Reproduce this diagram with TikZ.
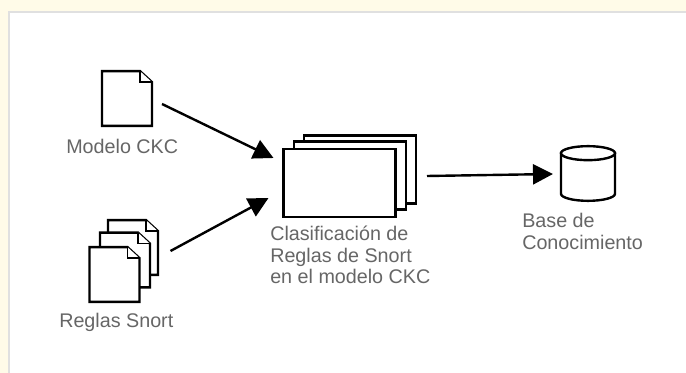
\documentclass[tikz,border=0pt]{standalone}
\usepackage{fontspec}
\setmainfont{Liberation Sans}
\usetikzlibrary{arrows.meta}
\definecolor{fondo}{HTML}{FFFBE8}
\definecolor{marco}{HTML}{E0E0E0}
\definecolor{texto}{HTML}{666666}
% one sheet with a folded corner, size in pt, position in px
\newcommand{\hoja}[3]{
\node[hojabox] (#1) at (#2,#3) {};
\draw[linea,fill=white] (#1.north west) -- ([shift={(-12,0)}]#1.north east) -- ([shift={(0,11)}]#1.north east) -- (#1.south east) -- (#1.south west) -- cycle;
\draw[linea,line width=1.2pt,fill=white] ([shift={(-12,0)}]#1.north east) -- ([shift={(-12,11)}]#1.north east) -- ([shift={(0,11)}]#1.north east);
}
\begin{document}
\begin{tikzpicture}[x=0.75pt,y=-0.75pt,
linea/.style = {line width=1.8pt,draw=black,line join=miter},
hojabox/.style = {minimum width=37.5pt,minimum height=41pt,inner sep=0pt,outer sep=0pt},
tarjeta/.style = {linea,fill=white,minimum width=84pt,minimum height=51pt,inner sep=0pt,outer sep=0pt},
flecha/.style = {line width=1.8pt,-{Triangle[length=15pt,width=15pt]}},
etiqueta/.style = {text=texto,anchor=north west,inner sep=0pt,align=left,font=\fontsize{14.8}{16.2}\selectfont}]
\useasboundingbox (0,0) rectangle (686,373);
\fill[fondo] (0,0) rectangle (686,373);
\fill[white] (9,12) rectangle (686,373);
\draw[marco,line width=2.2pt] (9,373) -- (9,12) -- (686,12);

\hoja{modelo}{127}{98.5}
\hoja{reglasc}{133}{247.5}
\hoja{reglasb}{125}{260}
\hoja{reglasa}{114.5}{274.5}

\node[tarjeta] (clasc) at (360,169.5) {};
\node[tarjeta] (clasb) at (350,175.5) {};
\node[tarjeta] (clasa) at (339.5,183) {};

\node[minimum width=40.5pt,minimum height=41pt,inner sep=0pt,outer sep=0pt] (base) at (588,173.5) {};
\draw[linea,fill=white] ([shift={(0,7)}]base.north west) -- ([shift={(0,-7)}]base.south west) arc[start angle=180,end angle=0,x radius=27,y radius=7] -- ([shift={(0,7)}]base.north east) -- cycle;
\draw[linea,fill=white] ([shift={(0,7)}]base.north) ellipse [x radius=27,y radius=7];

\node[etiqueta] (tmodelo) at (66,139) {Modelo CKC};
\node[etiqueta] (treglas) at (59,313) {Reglas Snort};
\node[etiqueta] (tclas) at (270,226) {Clasificación de\\Reglas de Snort\\en el modelo CKC};
\node[etiqueta] (tbase) at (522,213) {Base de\\Conocimiento};

\draw[flecha] ([shift={(10,5.5)}]modelo.east) -- ([shift={(-10,9)}]clasa.north west);
\draw[flecha] ([shift={(31,-23.5)}]reglasa.east) -- ([shift={(-15,49)}]clasa.north west);
\draw[flecha] ([shift={(11,6.5)}]clasc.east) -- ([shift={(-8,0.5)}]base.west);
\end{tikzpicture}
\end{document}
